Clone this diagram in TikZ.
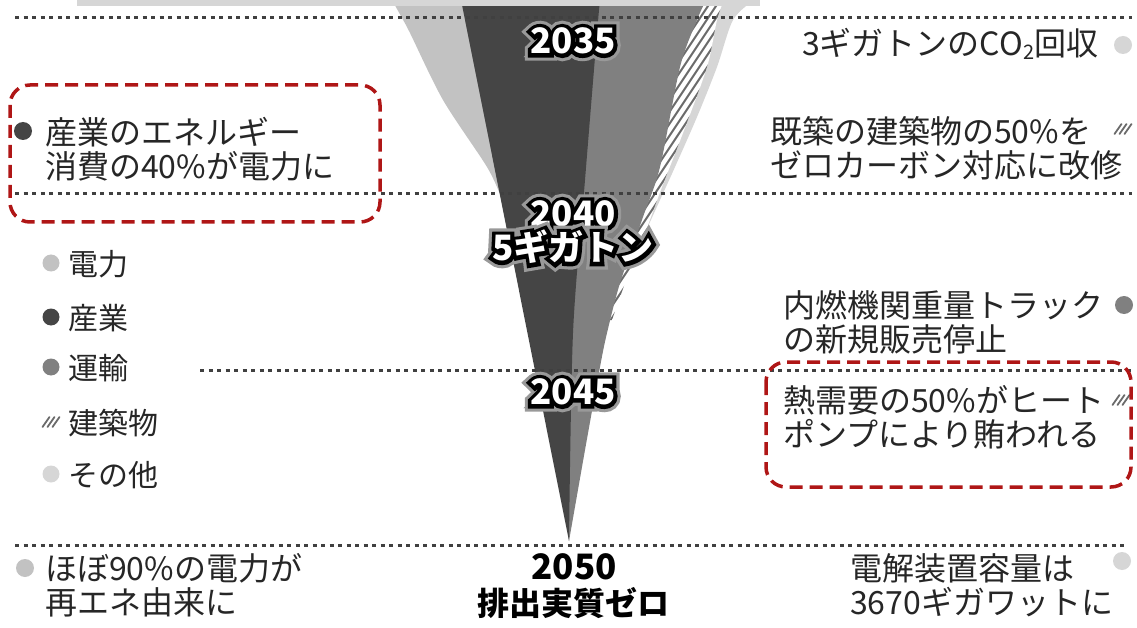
\documentclass[tikz,border=0pt]{standalone}
\usepackage{fontspec}
\setmainfont{Noto Sans CJK JP}
\newfontfamily\outlfont[FakeBold=22]{Noto Sans CJK JP}
\newfontfamily\halofont[FakeBold=40]{Noto Sans CJK JP}
\definecolor{cDen}{gray}{0.76}
\definecolor{cInd}{gray}{0.27}
\definecolor{cTra}{gray}{0.50}
\definecolor{cBldLine}{gray}{0.42}
\definecolor{cOth}{gray}{0.84}
\definecolor{cRed}{RGB}{175,22,22}
\definecolor{cTxt}{gray}{0.15}
\newcommand{\otext}[3]{%
  \node[yr,text=black!40,font=\fontsize{35}{35}\selectfont\halofont\bfseries] (#1-h) at (#2) {#3};
  \node[yr,text=black,font=\fontsize{35}{35}\selectfont\outlfont\bfseries] (#1-o) at (#2) {#3};
  \node[yr,text=white] (#1) at (#2) {#3};}
\newcommand{\hatchicon}[2]{%
  \foreach \o in {-5,0,5}{\draw[cBldLine,line width=1.8pt,line cap=round] (#1+\o-3.5,#2+5) -- (#1+\o+3.5,#2-5);}}
\begin{document}
\begin{tikzpicture}[x=1pt,y=-1pt,
  txt/.style={inner sep=0pt, anchor=west, align=left, font=\fontsize{32}{34}\selectfont, text=cTxt},
  legtxt/.style={inner sep=0pt, anchor=west, font=\fontsize{30}{32}\selectfont, text=cTxt},
  yr/.style={inner sep=0pt, font=\fontsize{35}{35}\selectfont\bfseries},
  blk/.style={inner sep=0pt, align=center, font=\fontsize{35}{35}\selectfont\bfseries, text=black},
  dotline/.style={draw=black!75, line width=3pt, dash pattern=on 4pt off 4.5pt},
  redbox/.style={draw=cRed, line width=3.5pt, dash pattern=on 13pt off 7pt, rounded corners=20pt}]
\useasboundingbox (0,0) rectangle (1137,628);

% ---- funnel ----
% left light (electricity)
\fill[cDen] plot[smooth] coordinates {(392,0) (402,18) (410,33) (443,100) (487,167) (501,197)} -- (540,197) -- (540,0) -- cycle;
% right light (other)
\fill[cOth] plot[smooth] coordinates {(754,0) (733,20) (717,67) (697,117) (675,167) (660,200) (645,233)} -- (590,233) -- (590,0) -- cycle;
% hatched (buildings)
\begin{scope}
  \clip plot[smooth] coordinates {(724,0) (717,20) (707,67) (683,133) (662,187) (645,233) (628,275) (612,320)} -- (590,320) -- (590,0) -- cycle;
  \fill[white] (580,0) rectangle (760,330);
  \foreach \k in {560,568,...,1000}{\draw[cBldLine,line width=2pt] (\k,0) -- (\k-230,345);}
\end{scope}
% medium (transport)
\fill[cTra] plot[smooth] coordinates {(706,0) (697,20) (680,67) (660,167) (643,217) (620,283) (607,333) (600,367) (585,450) (569,541)} -- (540,300) -- (540,0) -- cycle;
% dark (industry)
\fill[cInd] (461,0) -- plot[smooth] coordinates {(569,541) (573,333) (585,180) (597,33) (600,0)} -- cycle;

% top band
\fill[black!16] (77,0) rectangle (760,6);

% ---- dotted year lines ----
\draw[dotline] (15,18) -- (1132,18);
\draw[dotline] (15,194) -- (1132,194);
\draw[dotline] (200,370) -- (1132,370);
\draw[dotline] (15,545) -- (1126,545);

% ---- year labels ----
\otext{y2035}{573,41}{2035}
\otext{y2040}{573,214}{2040}
\otext{g5}{573,247}{5ギガトン}
\otext{y2045}{573,392}{2045}
\node[blk] (y2050) at (574,567) {2050};
\node[blk, font=\fontsize{32}{32}\selectfont\bfseries] (zero) at (573,603) {排出実質ゼロ};

% ---- left texts ----
\fill[cInd] (23,131) circle (9);
\node[txt] (ind40) at (45,149.5) {産業のエネルギー\\消費の40\%が電力に};
\draw[redbox] (10,85) rectangle (380,222);

\fill[cDen] (51,263) circle (8.5);
\node[legtxt] (lgDen) at (68,264) {電力};
\fill[cInd] (51,317) circle (8.5);
\node[legtxt] (lgInd) at (68,318) {産業};
\fill[cTra] (51,367) circle (8.5);
\node[legtxt] (lgTra) at (68,368) {運輸};
\hatchicon{51}{422}
\node[legtxt] (lgBld) at (68,423) {建築物};
\fill[cOth] (51,474) circle (8.5);
\node[legtxt] (lgOth) at (68,475) {その他};

\fill[cDen] (25,568) circle (9);
\node[txt] (ren90) at (45,585) {ほぼ90\%の電力が\\再エネ由来に};

% ---- right texts ----
\node[txt] (co2) at (802,44) {3ギガトンのCO{\raisebox{-0.12em}{\fontsize{20}{20}\selectfont 2}}回収};
\fill[cOth] (1123,45) circle (9);

\node[txt] (bld50) at (770,148) {既築の建築物の50\%を\\ゼロカーボン対応に改修};
\hatchicon{1123}{129}

\node[txt] (truck) at (783,322) {内燃機関重量トラック\\の新規販売停止};
\fill[cTra] (1124,305) circle (9);

\node[txt] (heat) at (783,417) {熱需要の50\%がヒート\\ポンプにより賄われる};
\hatchicon{1121}{400}
\draw[redbox] (766,362) rectangle (1131,487);

\node[txt] (elec) at (850,585) {電解装置容量は\\3670ギガワットに};
\fill[cOth] (1122,561) circle (9);
\end{tikzpicture}
\end{document}
